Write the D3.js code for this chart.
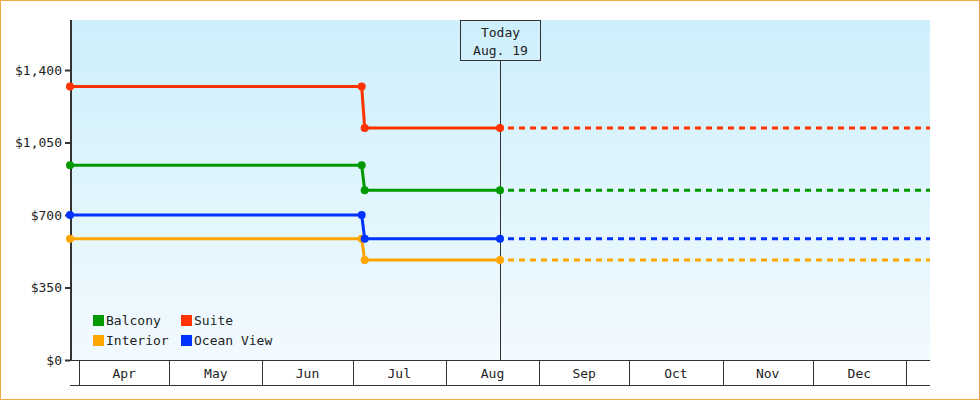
<!DOCTYPE html>
<html><head><meta charset="utf-8">
<script src="https://cdn.jsdelivr.net/npm/d3@7"></script>
<style>body{margin:0;background:#fff}svg{display:block}text{font-family:"DejaVu Sans Mono",monospace;font-size:13px;fill:#222}</style>
</head><body><svg id="c" width="980" height="400"></svg>
<script>
const seriesNames = ["Balcony","Suite","Interior","Ocean View"];
const seriesColors = ["#009900","#ff3300","#ffa500","#0033ff"];
const pointDates = ["2024-03-29","2024-07-04","2024-07-05","2024-08-19"];
const balcony = [940, 940, 820, 820];
const suite = [1320, 1320, 1120, 1120];
const interior = [585, 585, 483, 483];
const oceanView = [700, 700, 585, 585];
const projectEnd = "2025-01-09";
const yTicks = [0,350,700,1050,1400];
const monthLabels = ["Apr","May","Jun","Jul","Aug","Sep","Oct","Nov","Dec"];
const todayLabel = ["Today","Aug. 19"];

const P = d3.timeParse("%Y-%m-%d");
const svg = d3.select("#c");
const L=70,R=930,T=20,B=360;
svg.append("rect").attr("x",0.5).attr("y",0.5).attr("width",979).attr("height",399).attr("fill","#fff").attr("stroke","#f0a848");
const defs=svg.append("defs");
const g=defs.append("linearGradient").attr("id","bg").attr("x1",0).attr("x2",0).attr("y1",0).attr("y2",1);
g.append("stop").attr("offset",0).attr("stop-color","#cdeffc");
g.append("stop").attr("offset",1).attr("stop-color","#f2fafe");
svg.append("rect").attr("x",L).attr("y",T).attr("width",R-L).attr("height",B-T).attr("fill","url(#bg)");
const x=d3.scaleTime().domain([P(pointDates[0]),P(projectEnd)]).range([L,R]);
const y=d3.scaleLinear().domain([0,1400]).range([B,70]);
// y axis
const ya=svg.append("g").attr("transform",`translate(${L},0)`).call(d3.axisLeft(y).tickValues(yTicks).tickSize(5).tickFormat(d=>"$"+d3.format(",")(d)));
ya.select(".domain").remove();
ya.selectAll("line").attr("stroke","#333").attr("stroke-width",2);
ya.selectAll("text").attr("font-family","DejaVu Sans Mono").attr("font-size",13).attr("fill","#222");
svg.append("line").attr("x1",L+1).attr("x2",L+1).attr("y1",T).attr("y2",B+1).attr("stroke","#333").attr("stroke-width",2);
// x axis
svg.append("line").attr("x1",L).attr("x2",R).attr("y1",B+0.5).attr("y2",B+0.5).attr("stroke","#333");
svg.append("line").attr("x1",L).attr("x2",R).attr("y1",385.5).attr("y2",385.5).attr("stroke","#333");
const months=monthLabels.map((m,i)=>new Date(2024,3+i,1));
const bounds=months.concat([new Date(2025,0,1)]);
svg.selectAll(".mt").data(bounds).join("line").attr("x1",d=>Math.round(x(d))+0.5).attr("x2",d=>Math.round(x(d))+0.5).attr("y1",B).attr("y2",385).attr("stroke","#333");
svg.selectAll(".ml").data(months).join("text").attr("x",(d,i)=>(x(d)+x(bounds[i+1]))/2).attr("y",378).attr("text-anchor","middle").text((d,i)=>monthLabels[i]);
// today line
const tx=Math.round(x(P(pointDates[3])))+0.5;
svg.append("line").attr("x1",tx).attr("x2",tx).attr("y1",60).attr("y2",B).attr("stroke","#333");
svg.append("rect").attr("x",tx-40).attr("y",20.5).attr("width",80).attr("height",40).attr("fill","none").attr("stroke","#333");
todayLabel.forEach((t,i)=>svg.append("text").attr("x",tx).attr("y",37+i*18).attr("text-anchor","middle").text(t));
// series
const data=[balcony,suite,interior,oceanView];
data.forEach((vals,k)=>{
  const pts=vals.map((v,i)=>[x(P(pointDates[i])),y(v)]);
  const c=seriesColors[k];
  svg.append("path").attr("d",d3.line()(pts)).attr("fill","none").attr("stroke",c).attr("stroke-width",3);
  const last=vals[vals.length-1];
  svg.append("line").attr("x1",x(P(pointDates[3]))+8).attr("x2",R).attr("y1",y(last)).attr("y2",y(last)).attr("stroke",c).attr("stroke-width",3).attr("stroke-dasharray","6,5");
  svg.selectAll(null).data(pts).join("circle").attr("cx",d=>d[0]).attr("cy",d=>d[1]).attr("r",4).attr("fill",c);
});
// legend
const lg=[[0,0],[88,0],[0,20],[88,20]];
seriesNames.forEach((n,i)=>{
  const gx=93+lg[i][0], gy=315+lg[i][1];
  svg.append("rect").attr("x",gx).attr("y",gy).attr("width",11).attr("height",11).attr("fill",seriesColors[i]);
  svg.append("text").attr("x",gx+13).attr("y",gy+10).text(n);
});
</script></body></html>
